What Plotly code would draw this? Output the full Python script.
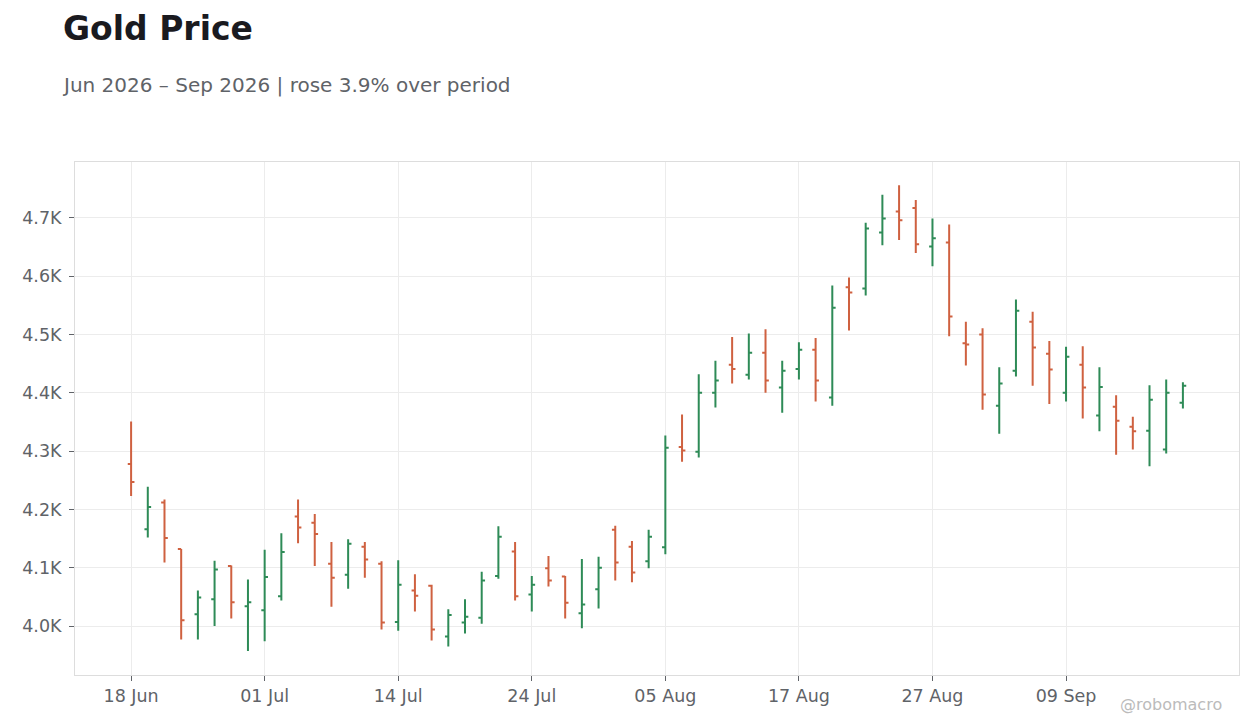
import pandas as pd
import plotly.graph_objects as go

# =========================
# DATA (harga emas harian, hari bursa)
# =========================
libur = ["2026-06-19", "2026-07-03", "2026-09-07"]
tanggal = pd.bdate_range("2026-06-18", "2026-09-18", freq="C", holidays=libur)

open_ = [4278, 4166, 4212, 4132, 4020, 4046, 4103, 4034, 4027, 4051,
         4188, 4177, 4107, 4088, 4136, 4107, 4007, 4061, 4069, 3982,
         4006, 4014, 4086, 4128, 4054, 4099, 4085, 4022, 4063, 4165,
         4136, 4111, 4135, 4307, 4299, 4400, 4448, 4431, 4469, 4409,
         4441, 4474, 4392, 4581, 4579, 4675, 4711, 4717, 4651, 4658,
         4485, 4500, 4378, 4438, 4522, 4467, 4400, 4448, 4361, 4376,
         4342, 4335, 4303, 4383]
high = [4351, 4239, 4217, 4132, 4061, 4112, 4104, 4080, 4131, 4159,
        4217, 4192, 4144, 4149, 4144, 4111, 4113, 4089, 4071, 4029,
        4046, 4093, 4171, 4144, 4086, 4120, 4086, 4115, 4119, 4172,
        4146, 4165, 4327, 4363, 4432, 4455, 4496, 4502, 4509, 4455,
        4487, 4494, 4584, 4598, 4692, 4740, 4756, 4731, 4699, 4689,
        4522, 4511, 4444, 4560, 4539, 4489, 4479, 4480, 4444, 4396,
        4359, 4413, 4423, 4418]
low = [4223, 4152, 4109, 3977, 3977, 4000, 4013, 3957, 3974, 4044,
       4142, 4103, 4033, 4064, 4083, 3994, 3992, 4025, 3975, 3965,
       3987, 4004, 4081, 4044, 4025, 4068, 4013, 3996, 4030, 4078,
       4075, 4099, 4123, 4282, 4289, 4375, 4416, 4423, 4400, 4366,
       4423, 4385, 4378, 4507, 4567, 4653, 4662, 4640, 4617, 4497,
       4447, 4371, 4330, 4428, 4412, 4381, 4385, 4356, 4334, 4294,
       4303, 4274, 4296, 4373]
close = [4247, 4204, 4151, 4010, 4049, 4097, 4041, 4041, 4084, 4127,
         4169, 4158, 4083, 4141, 4114, 4006, 4071, 4052, 3994, 4019,
         4016, 4078, 4153, 4051, 4071, 4078, 4040, 4037, 4100, 4109,
         4092, 4153, 4306, 4301, 4400, 4421, 4441, 4469, 4421, 4438,
         4474, 4421, 4546, 4572, 4682, 4699, 4696, 4655, 4665, 4531,
         4483, 4397, 4416, 4541, 4478, 4440, 4462, 4409, 4410, 4352,
         4334, 4388, 4400, 4412]

y_ticks = [4000, 4100, 4200, 4300, 4400, 4500, 4600, 4700]

x_label = [d.strftime("%Y-%m-%d") for d in tanggal]
perubahan = (close[-1] / close[0] - 1) * 100

# =========================
# CHART
# =========================
fig = go.Figure(
    go.Ohlc(
        x=x_label,
        open=open_, high=high, low=low, close=close,
        increasing=dict(line=dict(color="#2e8b57", width=2)),
        decreasing=dict(line=dict(color="#cf6140", width=2)),
        tickwidth=0.2,
        showlegend=False,
    )
)

font_utama = "DejaVu Sans"
abu = "#5f6368"

# halaman punya margin body 8px, jadi ukuran & margin dikurangi 8
fig.update_layout(
    width=1252, height=720,
    paper_bgcolor="white", plot_bgcolor="white",
    font=dict(family=font_utama, size=17.5, color=abu),
    margin=dict(l=67, r=21, t=154, b=53),
    title=dict(
        text="<b>Gold Price</b>",
        font=dict(size=33, color="#1a1a1f"),
        xref="container", yref="container",
        x=55 / 1252, xanchor="left",
        y=1 - 20 / 720, yanchor="middle",
    ),
    annotations=[
        dict(
            text=f"Jun 2026 – Sep 2026 | rose {perubahan:.1f}% over period",
            xref="paper", yref="paper",
            x=-15 / 1164, xanchor="left",
            y=(675 - 85) / 513, yanchor="middle",
            showarrow=False, font=dict(size=20, color=abu),
        ),
        dict(
            text="@robomacro",
            xref="paper", yref="paper",
            x=(1224 - 75) / 1164, xanchor="right",
            y=(675 - 705) / 513, yanchor="middle",
            showarrow=False, font=dict(size=16, color="#bbbbbb"),
        ),
    ],
)

fig.update_xaxes(
    type="category",
    rangeslider=dict(visible=False),
    range=[-3.36, len(x_label) - 1 + 3.36],
    tickvals=x_label[::8],
    ticktext=[d.strftime("%d %b") for d in tanggal[::8]],
    showgrid=True, gridcolor="#ececec", gridwidth=1,
    showline=True, linecolor="#dddddd", mirror=True,
    ticks="outside", ticklen=5, tickcolor=abu,
)
fig.update_yaxes(
    range=[3916, 4796],
    tickvals=y_ticks,
    ticktext=[f"{v / 1000:.1f}K" for v in y_ticks],
    showgrid=True, gridcolor="#ececec", gridwidth=1,
    showline=True, linecolor="#dddddd", mirror=True,
    ticks="outside", ticklen=5, tickcolor=abu,
    ticklabelstandoff=4,
    zeroline=False,
)

fig.write_html("out.html")
